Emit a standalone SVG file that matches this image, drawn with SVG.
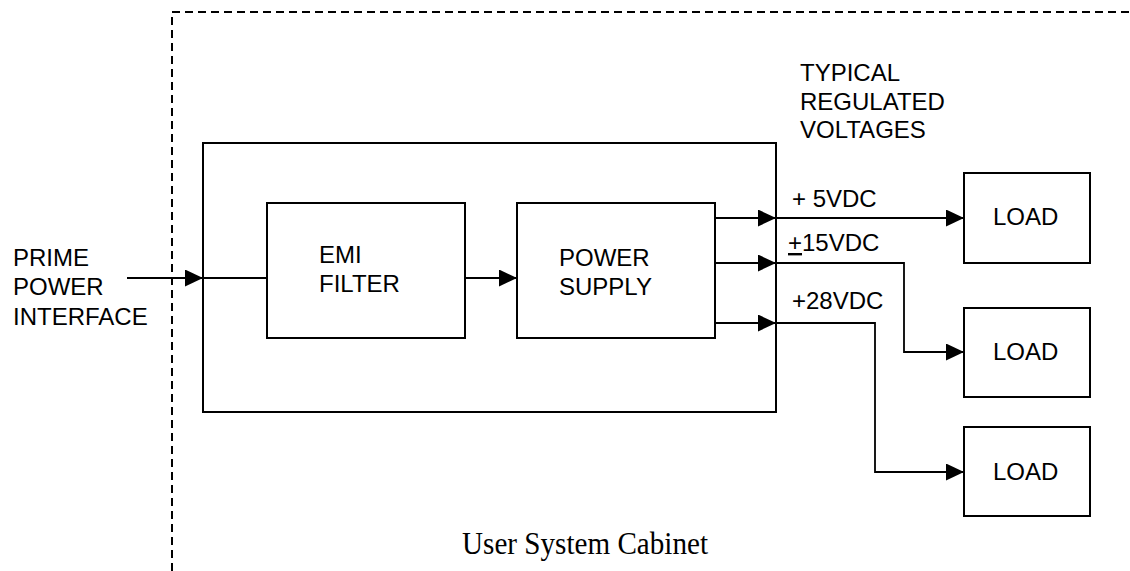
<svg xmlns="http://www.w3.org/2000/svg" width="1130" height="571" viewBox="0 0 1130 571">
<defs>
<style>
.box{fill:none;stroke:#000;stroke-width:2}
.ln{fill:none;stroke:#000;stroke-width:1.8}
.dash{fill:none;stroke:#000;stroke-width:2;stroke-dasharray:8 5}
.t{font-family:"Liberation Sans",Arial,sans-serif;font-size:24px;fill:#000}
.s{font-family:"Liberation Serif","Times New Roman",serif;font-size:31px;fill:#000}
</style>
<marker id="ah" markerUnits="userSpaceOnUse" markerWidth="18" markerHeight="17" refX="18" refY="8.5" orient="auto">
<path d="M0,0 L18,8.5 L0,17 z" fill="#000"/>
</marker>
</defs>
<rect width="1130" height="571" fill="#fff"/>
<g id="cabinet">
<path class="dash" d="M172,571 L172,12 L1130,12"/>
<text class="s" x="462" y="554" textLength="246" lengthAdjust="spacingAndGlyphs">User System Cabinet</text>
</g>
<g id="enclosure">
<rect class="box" x="203" y="143" width="573" height="269"/>
</g>
<g id="emi-filter">
<rect class="box" x="267" y="203" width="198" height="135"/>
<text class="t" x="319" y="263">EMI</text>
<text class="t" x="319" y="292">FILTER</text>
</g>
<g id="power-supply">
<rect class="box" x="517" y="203" width="198" height="135"/>
<text class="t" x="559" y="266">POWER</text>
<text class="t" x="559" y="295">SUPPLY</text>
</g>
<g id="load1">
<rect class="box" x="964" y="173" width="126" height="90"/>
<text class="t" x="993" y="225">LOAD</text>
</g>
<g id="load2">
<rect class="box" x="964" y="308" width="126" height="89"/>
<text class="t" x="993" y="360">LOAD</text>
</g>
<g id="load3">
<rect class="box" x="964" y="427" width="126" height="89"/>
<text class="t" x="993" y="480">LOAD</text>
</g>
<g id="labels">
<text class="t" x="13" y="266">PRIME</text>
<text class="t" x="13" y="295">POWER</text>
<text class="t" x="13" y="325">INTERFACE</text>
<text class="t" x="800" y="81">TYPICAL</text>
<text class="t" x="800" y="110">REGULATED</text>
<text class="t" x="800" y="138">VOLTAGES</text>
<text class="t" x="792" y="207">+ 5VDC</text>
<text class="t" x="788" y="251"><tspan text-decoration="underline">+</tspan>15VDC</text>
<text class="t" x="792" y="309">+28VDC</text>
</g>
<g id="connectors">
<path class="ln" d="M127,278 L203,278" marker-end="url(#ah)"/>
<path class="ln" d="M203,278 L267,278"/>
<path class="ln" d="M465,278 L517,278" marker-end="url(#ah)"/>
<path class="ln" d="M715,218 L776,218" marker-end="url(#ah)"/>
<path class="ln" d="M715,263 L776,263" marker-end="url(#ah)"/>
<path class="ln" d="M715,323 L776,323" marker-end="url(#ah)"/>
<path class="ln" d="M776,218 L964,218" marker-end="url(#ah)"/>
<path class="ln" d="M776,263 L904,263 L904,352 L964,352" marker-end="url(#ah)"/>
<path class="ln" d="M776,323 L875,323 L875,472 L964,472" marker-end="url(#ah)"/>
</g>
</svg>
